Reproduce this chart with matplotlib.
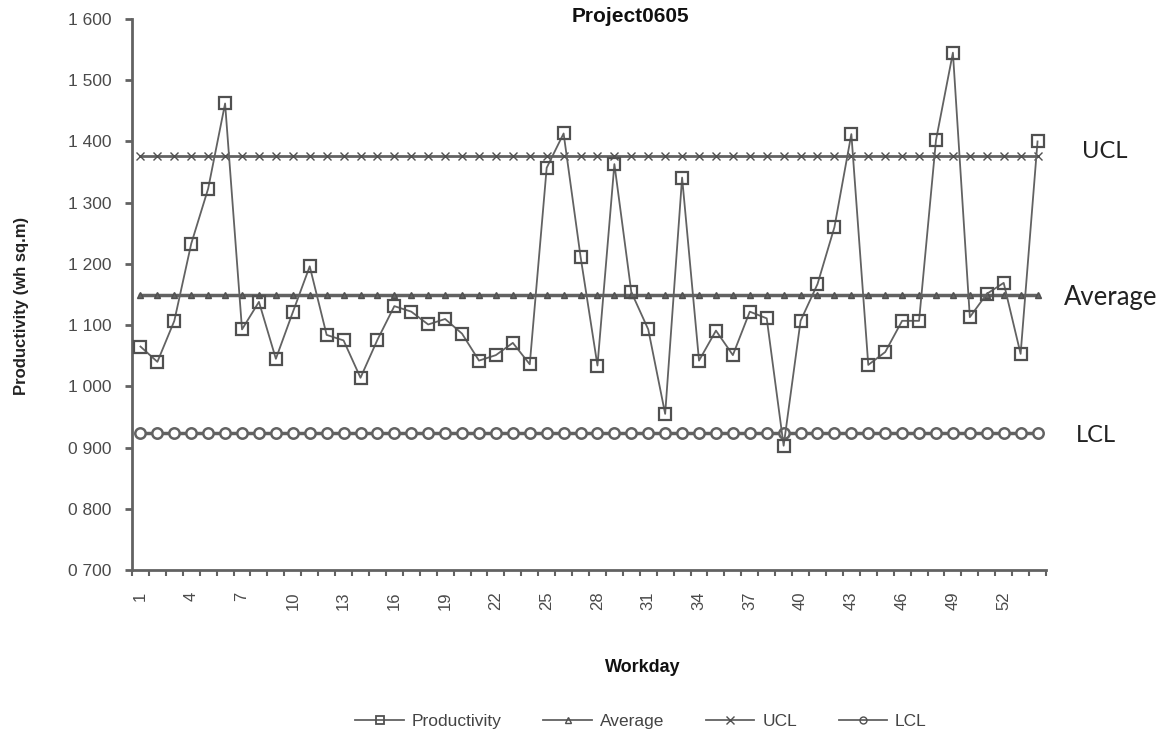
import numpy as np
import matplotlib
matplotlib.use('Agg')
import matplotlib.pyplot as plt
from matplotlib.ticker import FixedLocator, FuncFormatter
from matplotlib.lines import Line2D

# --- data ---
workday = np.arange(1, 55)
productivity = [1.065, 1.040, 1.107, 1.233, 1.323, 1.462, 1.093, 1.138, 1.045, 1.121,
                1.196, 1.084, 1.075, 1.014, 1.076, 1.131, 1.122, 1.101, 1.110, 1.086,
                1.042, 1.051, 1.071, 1.036, 1.357, 1.413, 1.212, 1.034, 1.363, 1.154,
                1.093, 0.955, 1.341, 1.042, 1.091, 1.051, 1.122, 1.111, 0.903, 1.107,
                1.167, 1.260, 1.412, 1.035, 1.056, 1.107, 1.107, 1.402, 1.545, 1.113,
                1.151, 1.169, 1.053, 1.400]
average = 1.150
ucl = 1.377
lcl = 0.924
x_labels = list(range(1, 55, 3))

grey = '#626262'
plt.rcParams['font.family'] = ['Liberation Sans', 'DejaVu Sans']

fig = plt.figure(figsize=(11.67, 7.34), dpi=100)
ax = fig.add_axes([132 / 1167, 1 - 570 / 734, (1046 - 132) / 1167, (570 - 19) / 734])

n = len(workday)
ax.plot(workday, [ucl] * n, color=grey, lw=2, marker='x', ms=6, mew=1.0, mec='#505050')
ax.plot(workday, [average] * n, color=grey, lw=2.5, marker='^', ms=4.5, mfc=grey, mec='#505050')
ax.plot(workday, [lcl] * n, color=grey, lw=2.5, marker='o', ms=7.5, mfc='white', mec=grey, mew=1.8)
ax.plot(workday, productivity, color=grey, lw=1.3, marker='s', ms=8.5, mfc='none',
        mec='#505050', mew=1.6, zorder=5)

ax.set_xlim(0.5, 54.5)
ax.set_ylim(0.7, 1.6)

for s in ['top', 'right']:
    ax.spines[s].set_visible(False)
for s in ['left', 'bottom']:
    ax.spines[s].set_color(grey)
    ax.spines[s].set_linewidth(2)

ax.set_yticks(np.arange(0.7, 1.601, 0.1))
ax.yaxis.set_major_formatter(FuncFormatter(lambda v, p: f'{v:.3f}'.replace('.', ' ')))
ax.tick_params(axis='y', colors=grey, labelcolor='#4a4a4a', length=5, width=2,
               labelsize=12.5, pad=10)

# category axis: ticks between categories, labels at every third day
ax.xaxis.set_major_locator(FixedLocator(np.arange(0.5, 55, 1)))
ax.xaxis.set_major_formatter(FuncFormatter(lambda v, p: ''))
ax.xaxis.set_minor_locator(FixedLocator(x_labels))
ax.xaxis.set_minor_formatter(FuncFormatter(lambda v, p: f'{int(round(v))}'))
ax.tick_params(axis='x', which='major', colors=grey, length=4, width=1.5)
ax.tick_params(axis='x', which='minor', length=0, labelcolor='#4a4a4a', labelsize=12,
               labelrotation=90, pad=15.5)

fig.text(630 / 1167, 1 - 16 / 734, 'Project0605', ha='center', va='center',
         fontsize=15, fontweight='bold', color='#111111')
fig.text(643 / 1167, 1 - 668 / 734, 'Workday', ha='center', va='center',
         fontsize=13, fontweight='bold', color='#111111')
fig.text(22 / 1167, 1 - 306 / 734, 'Productivity (wh sq.m)', ha='center', va='center',
         rotation=90, fontsize=12, fontweight='bold', color='#222222')

side_labels = [('UCL', 1105, 151, 17), ('Average', 1111, 298, 18.5), ('LCL', 1096, 435, 17)]
for label, xv, yv, fs in side_labels:
    fig.text(xv / 1167, 1 - yv / 734, label, ha='center', va='center', fontsize=fs,
             family=['Lato', 'DejaVu Sans'], color='#222222')

handles = [
    Line2D([], [], color=grey, lw=1.3, marker='s', ms=6, mfc='none', mec='#505050', mew=1.3),
    Line2D([], [], color=grey, lw=1.3, marker='^', ms=5, mfc='none', mec='#505050'),
    Line2D([], [], color=grey, lw=1.3, marker='x', ms=6, mec='#505050'),
    Line2D([], [], color=grey, lw=1.3, marker='o', ms=5, mfc='none', mec='#505050'),
]
fig.legend(handles, ['Productivity', 'Average', 'UCL', 'LCL'], loc='center',
           bbox_to_anchor=(641 / 1167, 1 - 721 / 734), ncol=4, frameon=False,
           fontsize=12.5, handlelength=2.8, handletextpad=0.45, columnspacing=2.4,
           labelcolor='#444444')

fig.savefig('out.png', dpi=100)
